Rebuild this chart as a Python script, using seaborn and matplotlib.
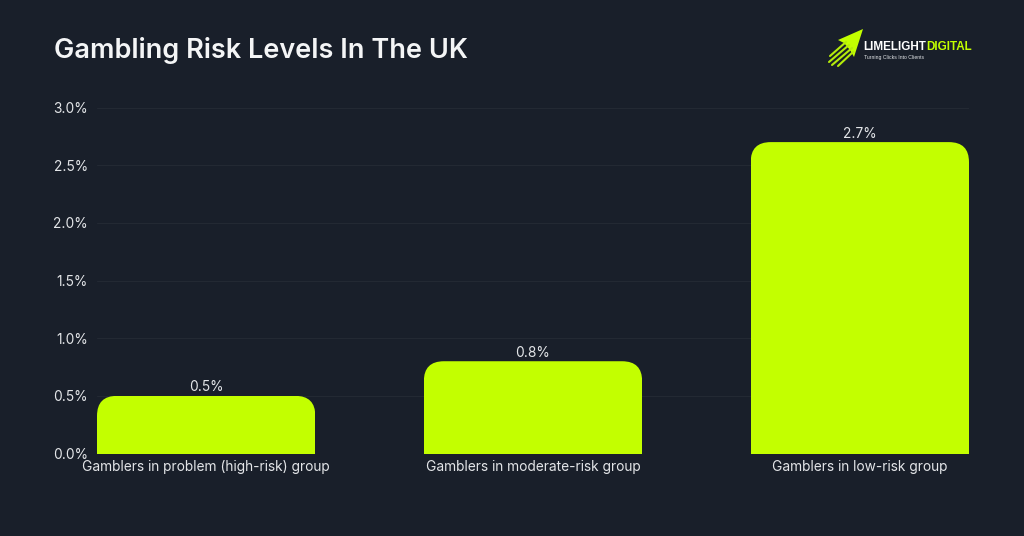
import pandas as pd
import seaborn as sns
import matplotlib.pyplot as plt
from matplotlib.patches import FancyBboxPatch, Polygon

categories = ['Gamblers in problem (high-risk) group', 'Gamblers in moderate-risk group', 'Gamblers in low-risk group']
values = [0.5, 0.8, 2.7]
value_labels = ['0.5%', '0.8%', '2.7%']
y_ticks = [0.0, 0.5, 1.0, 1.5, 2.0, 2.5, 3.0]

BG = '#191f2a'
LIME = '#c3ff00'
TXT = '#e3e5e8'

df = pd.DataFrame({'group': categories, 'share': values})

sns.set_theme(style='white', rc={'figure.figsize': (10.24, 5.36), 'figure.dpi': 100})
plt.rcParams['font.family'] = ['Inter', 'DejaVu Sans']

fig = plt.figure(facecolor=BG)
# оси в пикселях референса: x 97..969, y 107.5..453.5
ax = fig.add_axes([97 / 1024, 1 - 453.5 / 536, 872 / 1024, 346 / 536], facecolor=BG)

sns.barplot(x='group', y='share', data=df, color=LIME, saturation=1, width=0.668,
            linewidth=0, edgecolor='none', ax=ax, zorder=3)

ax.set_xlim(-0.334, 2.334)
ax.set_ylim(0, 3)

# скругляем верхние углы столбцов
x_per_px = 2.668 / 872
y_per_px = 3 / 346
radius = 20 * x_per_px
for bar in ax.patches:
    rounded = FancyBboxPatch(
        (bar.get_x(), -0.5), bar.get_width(), bar.get_height() + 0.5,
        boxstyle=f'round,pad=0,rounding_size={radius}',
        mutation_aspect=y_per_px / x_per_px,
        transform=ax.transData,
    )
    bar.set_clip_path(rounded)

# подписи значений над столбцами
for index, value in enumerate(values):
    ax.annotate(value_labels[index], (index, value), xytext=(0, 1), textcoords='offset points',
                ha='center', va='bottom', color=TXT, fontsize=9.9)

ax.set_yticks(y_ticks)
ax.set_yticklabels([f'{t:.1f}%' for t in y_ticks])
ax.tick_params(axis='y', length=0, pad=6.5, labelcolor=TXT, labelsize=9.9)
ax.tick_params(axis='x', length=0, pad=5, labelcolor=TXT, labelsize=9.9)
ax.set_xlabel('')
ax.set_ylabel('')
ax.grid(axis='y', color='#232933', linewidth=0.8, zorder=0)
ax.set_axisbelow(True)
sns.despine(ax=ax, left=True, bottom=True, top=True, right=True)

fig.text(54 / 1024, 1 - 50 / 536, 'Gambling Risk Levels In The UK', color='#f4f5f6',
         fontsize=19.5, fontweight='semibold', ha='left', va='center')

# логотип
logo = fig.add_axes([0, 0, 1, 1], facecolor='none')
logo.set_xlim(0, 1024)
logo.set_ylim(536, 0)
logo.axis('off')
logo.add_patch(Polygon([(863, 29), (838, 40), (844, 43), (850, 50), (854, 57)],
                       closed=True, color=LIME, lw=0))
for x0, y0, x1, y1 in [(830, 56, 846, 42), (829, 62, 849, 45), (832, 65, 852, 48), (838, 66, 853, 52)]:
    logo.plot([x0, x1], [y0, y1], color='#b5ec0a', lw=1.5, solid_capstyle='round')
logo.text(863, 47, 'LIMELIGHT', color='#ffffff', family=['Liberation Sans', 'DejaVu Sans'],
          fontsize=8.5, fontweight='bold', ha='left', va='center')
logo.text(926, 47, 'DIGITAL', color=LIME, family=['Liberation Sans', 'DejaVu Sans'],
          fontsize=8.4, fontweight='bold', ha='left', va='center')
logo.text(864, 57, 'Turning Clicks Into Clients', color='#e3e5e8',
          family=['Liberation Sans', 'DejaVu Sans'], fontsize=3.7, ha='left', va='center')

fig.savefig('out.png', dpi=100, facecolor=BG)
